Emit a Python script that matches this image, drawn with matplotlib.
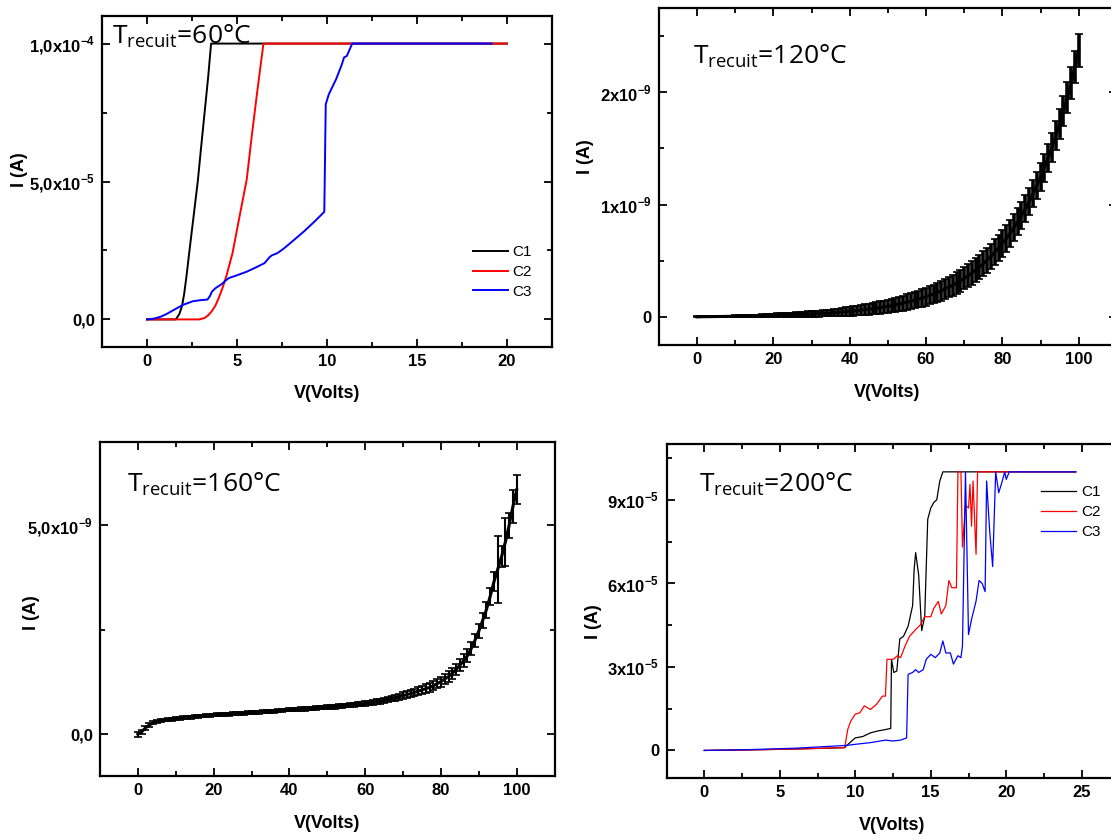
import matplotlib
matplotlib.use('Agg')
import matplotlib.pyplot as plt
from matplotlib.ticker import MultipleLocator

plt.rcParams['font.family'] = ['Liberation Sans', 'DejaVu Sans']

# ---- data ----
# annealing 60 C, three contacts (I in 1e-5 A)
c1_60_v = [0, 1.6, 1.8, 1.95, 2.07, 2.2, 2.36, 2.6, 2.82, 3.0, 3.2, 3.4, 3.56, 20]
c1_60_i = [0, 0, 0.2, 0.5, 0.95, 1.6, 2.5, 3.8, 5.0, 6.2, 7.5, 8.8, 10, 10]
c2_60_v = [0, 2.9, 3.2, 3.4, 3.6, 3.8, 4.0, 4.2, 4.4, 4.75, 5.14, 5.54, 5.84, 6.14, 6.47, 20]
c2_60_i = [0, 0, 0.05, 0.15, 0.3, 0.5, 0.8, 1.15, 1.55, 2.4, 3.73, 5.07, 6.76, 8.34, 10, 10]
c3_60_v = [0, 0.4, 0.77, 1.1, 1.37, 1.7, 1.97, 2.3, 2.56, 3.0, 3.36, 3.5, 3.6, 3.8, 4.15,
           4.35, 4.55, 5.0, 5.54, 6.0, 6.53, 6.8, 6.93, 7.23, 7.5, 7.73, 8.2, 8.72, 9.31,
           9.85, 9.93, 10.1, 10.5, 10.8, 10.95, 11.1, 11.4, 19.15]
c3_60_i = [0, 0.03, 0.1, 0.2, 0.3, 0.42, 0.52, 0.6, 0.66, 0.7, 0.72, 0.85, 1.0, 1.13, 1.28,
           1.4, 1.5, 1.6, 1.73, 1.87, 2.04, 2.25, 2.32, 2.4, 2.52, 2.64, 2.9, 3.19, 3.55,
           3.9, 7.8, 8.16, 8.7, 9.2, 9.5, 9.55, 10, 10]

# annealing 120 C, mean current and error (1e-9 A), V = 0..100 step 1
v_120 = list(range(0, 101))
i_120 = [0.000, 0.001, 0.002, 0.002, 0.003, 0.003, 0.004, 0.004, 0.005, 0.005,
         0.006, 0.006, 0.007, 0.008, 0.009, 0.010, 0.010, 0.011, 0.012, 0.013,
         0.014, 0.015, 0.016, 0.017, 0.018, 0.019, 0.021, 0.022, 0.023, 0.025,
         0.026, 0.028, 0.030, 0.032, 0.034, 0.036, 0.038, 0.041, 0.044, 0.047,
         0.050, 0.053, 0.057, 0.060, 0.064, 0.069, 0.073, 0.078, 0.083, 0.089,
         0.095, 0.101, 0.108, 0.115, 0.123, 0.131, 0.139, 0.149, 0.159, 0.169,
         0.180, 0.192, 0.205, 0.219, 0.233, 0.249, 0.266, 0.283, 0.302, 0.322,
         0.344, 0.366, 0.391, 0.417, 0.444, 0.474, 0.506, 0.539, 0.575, 0.613,
         0.654, 0.697, 0.744, 0.793, 0.846, 0.902, 0.962, 1.026, 1.095, 1.167,
         1.245, 1.328, 1.416, 1.510, 1.611, 1.718, 1.832, 1.954, 2.084, 2.222,
         2.370]
e_120 = [0.004, 0.004, 0.004, 0.005, 0.005, 0.005, 0.006, 0.006, 0.007, 0.007,
         0.008, 0.008, 0.009, 0.009, 0.010, 0.011, 0.011, 0.012, 0.013, 0.014,
         0.015, 0.016, 0.017, 0.018, 0.019, 0.020, 0.021, 0.022, 0.023, 0.024,
         0.025, 0.026, 0.027, 0.028, 0.029, 0.030, 0.032, 0.033, 0.035, 0.037,
         0.039, 0.041, 0.043, 0.045, 0.047, 0.049, 0.051, 0.053, 0.055, 0.057,
         0.059, 0.061, 0.063, 0.065, 0.067, 0.069, 0.071, 0.073, 0.075, 0.077,
         0.079, 0.081, 0.083, 0.085, 0.087, 0.089, 0.091, 0.093, 0.095, 0.097,
         0.099, 0.101, 0.103, 0.105, 0.107, 0.109, 0.111, 0.113, 0.115, 0.117,
         0.118, 0.119, 0.120, 0.120, 0.120, 0.120, 0.120, 0.120, 0.120, 0.120,
         0.121, 0.123, 0.125, 0.127, 0.129, 0.131, 0.134, 0.137, 0.140, 0.143,
         0.146]

# annealing 160 C, mean current and error (1e-9 A), V = 0..100 step 1
v_160 = list(range(0, 101))
i_160 = [0.00, 0.06, 0.15, 0.22, 0.27, 0.30, 0.32, 0.34, 0.35, 0.36,
         0.37, 0.38, 0.39, 0.40, 0.41, 0.42, 0.43, 0.435, 0.44, 0.45,
         0.46, 0.465, 0.47, 0.475, 0.48, 0.485, 0.49, 0.50, 0.505, 0.51,
         0.52, 0.525, 0.53, 0.535, 0.54, 0.545, 0.55, 0.56, 0.565, 0.58,
         0.585, 0.59, 0.595, 0.60, 0.605, 0.61, 0.62, 0.625, 0.635, 0.64,
         0.65, 0.655, 0.66, 0.67, 0.675, 0.685, 0.69, 0.70, 0.715, 0.72,
         0.735, 0.75, 0.76, 0.78, 0.79, 0.81, 0.83, 0.85, 0.87, 0.895,
         0.92, 0.95, 0.97, 1.00, 1.03, 1.06, 1.09, 1.12, 1.16, 1.21,
         1.26, 1.32, 1.38, 1.46, 1.55, 1.65, 1.76, 1.88, 2.05, 2.25,
         2.47, 2.72, 2.98, 3.30, 3.65, 3.95, 4.25, 4.60, 5.00, 5.45,
         5.85]
e_160 = [0.06, 0.05, 0.04, 0.04, 0.035, 0.035, 0.035, 0.035, 0.035, 0.035,
         0.035, 0.035, 0.035, 0.035, 0.035, 0.035, 0.035, 0.035, 0.035, 0.035,
         0.035, 0.035, 0.035, 0.035, 0.035, 0.035, 0.035, 0.035, 0.035, 0.035,
         0.035, 0.035, 0.035, 0.035, 0.035, 0.035, 0.035, 0.035, 0.035, 0.035,
         0.04, 0.04, 0.04, 0.04, 0.04, 0.04, 0.04, 0.04, 0.04, 0.04,
         0.045, 0.045, 0.045, 0.045, 0.045, 0.045, 0.045, 0.045, 0.045, 0.045,
         0.05, 0.05, 0.055, 0.055, 0.06, 0.06, 0.065, 0.065, 0.07, 0.075,
         0.08, 0.08, 0.085, 0.09, 0.09, 0.095, 0.10, 0.10, 0.11, 0.11,
         0.12, 0.12, 0.13, 0.13, 0.14, 0.14, 0.15, 0.15, 0.16, 0.16,
         0.17, 0.18, 0.19, 0.21, 0.23, 0.80, 0.26, 0.57, 0.30, 0.40,
         0.35]

# annealing 200 C, three contacts (I in 1e-5 A)
c1_200_v = [0, 3, 6, 9.3, 9.5, 10, 10.5, 11, 11.5, 12, 12.35, 12.4, 12.55, 12.75, 12.95,
            13.2, 13.5, 13.8, 13.9, 14.0, 14.2, 14.4, 14.6, 14.8, 15.0, 15.2, 15.4, 15.6,
            15.8, 24.6]
c1_200_i = [0, 0.02, 0.05, 0.1, 0.21, 0.45, 0.5, 0.63, 0.7, 0.75, 0.79, 3.27, 2.8, 2.85, 4.0,
            4.1, 4.46, 5.2, 6.5, 7.1, 6.3, 4.3, 4.8, 8.3, 8.7, 8.9, 9.0, 9.67,
            10, 10]
c2_200_v = [0, 3, 6, 9.3, 9.5, 9.7, 10, 10.3, 10.6, 11, 11.4, 11.8, 12.0, 12.1, 12.5, 12.8,
            13.0, 13.3, 13.6, 14.0, 14.3, 14.6, 15.0, 15.2, 15.5, 15.7, 16.0, 16.2, 16.4,
            16.7, 16.8, 17.0, 17.1, 17.3, 17.5, 17.6, 17.7, 17.8, 18.0, 18.1, 24.6]
c2_200_i = [0, 0.02, 0.05, 0.1, 0.75, 1.05, 1.3, 1.35, 1.6, 1.47, 1.65, 1.95, 1.95, 3.27, 3.27,
            3.4, 3.33, 3.75, 4.1, 4.34, 4.5, 4.8, 4.8, 5.1, 5.35, 4.9, 5.2, 6.1, 5.84,
            5.84, 10, 10, 7.3, 8.8, 8.7, 9.55, 8.05, 9.67, 7.04, 10, 10]
c3_200_v = [0, 3, 6, 9.4, 10, 11, 12, 12.5, 13.0, 13.4, 13.5, 13.8, 14.0, 14.2, 14.5, 14.7,
            15.0, 15.3, 15.6, 15.8, 16.0, 16.3, 16.5, 16.8, 17.0, 17.1, 17.3, 17.5, 17.7,
            18.0, 18.2, 18.4, 18.6, 18.7, 18.9, 19.1, 19.3, 19.5, 19.7, 19.9, 20.0, 20.2, 24.6]
c3_200_i = [0, 0.03, 0.08, 0.18, 0.22, 0.28, 0.37, 0.34, 0.37, 0.45, 2.73, 2.8, 2.9, 2.8,
            2.9, 3.27, 3.45, 3.33, 3.5, 3.93, 3.5, 3.5, 3.1, 3.4, 3.33, 3.75, 10, 4.16, 4.7,
            5.36, 6.1, 6.0, 5.7, 9.67, 7.9, 6.6, 10, 9.25, 9.6, 10, 9.73, 10, 10]

W, H = 1111, 834
fig = plt.figure(figsize=(W / 100, H / 100), dpi=100)


def box(x0, y0, x1, y1):
    return [x0 / W, 1 - y1 / H, (x1 - x0) / W, (y1 - y0) / H]


def style(ax, xt, xminor, yt, ylabels, yminor):
    ax.set_xticks(xt, [str(t) for t in xt], fontweight='bold', fontsize=12)
    ax.set_yticks(yt, ylabels, fontweight='bold', fontsize=12)
    ax.xaxis.set_minor_locator(MultipleLocator(xminor))
    ax.yaxis.set_minor_locator(MultipleLocator(yminor))
    ax.tick_params(which='both', direction='in', top=True, right=True, width=1.3)
    ax.tick_params(which='major', length=6, pad=5)
    ax.tick_params(which='minor', length=3.5)
    for sp in ax.spines.values():
        sp.set_linewidth(1.6)


def labels(xl, yl):
    fig.text(xl[0] / W, 1 - xl[1] / H, 'V(Volts)', ha='center', va='center',
             fontsize=13, fontweight='bold')
    fig.text(yl[0] / W, 1 - yl[1] / H, 'I (A)', ha='center', va='center',
             fontsize=13, fontweight='bold', rotation=90)


def title(x, y, temp):
    fig.text(x / W, 1 - y / H, r'T$_{\mathregular{recuit}}$=' + temp + '°C',
             fontsize=19, family='Open Sans', va='baseline')


def band(ax, v, i, e, ew):
    ax.errorbar(v, [y * 1e-9 for y in i], yerr=[y * 1e-9 for y in e],
                color='black', lw=2.2, elinewidth=ew, capsize=2.6, capthick=1.2)


def legend(ax, anchor):
    ax.legend(loc='upper left', bbox_to_anchor=anchor, frameon=False, fontsize=11,
              borderpad=0, borderaxespad=0, handlelength=2.3, handletextpad=0.3,
              labelspacing=0.38)


# --- 60 C ---
ax1 = fig.add_axes(box(102, 16, 552, 347))
ax1.plot(c1_60_v, [i * 1e-5 for i in c1_60_i], color='black', lw=1.4, label='C1')
ax1.plot(c2_60_v, [i * 1e-5 for i in c2_60_i], color='red', lw=1.4, label='C2')
ax1.plot(c3_60_v, [i * 1e-5 for i in c3_60_i], color='blue', lw=1.4, label='C3')
ax1.set_xlim(-2.5, 22.5)
ax1.set_ylim(-1e-5, 1.1e-4)
style(ax1, [0, 5, 10, 15, 20], 2.5, [0, 5e-5, 1e-4],
      ['0,0', r'5,0x10$^{\mathregular{-5}}$', r'1,0x10$^{\mathregular{-4}}$'], 2.5e-5)
legend(ax1, (0.824, 0.308))
labels((327, 394), (19, 170))
title(112, 44, '60')

# --- 120 C ---
ax2 = fig.add_axes(box(658.8, 8, 1116.9, 345))
band(ax2, v_120, i_120, e_120, 2.6)
ax2.set_xlim(-10, 110)
ax2.set_ylim(-0.25e-9, 2.75e-9)
style(ax2, [0, 20, 40, 60, 80, 100], 10, [0, 1e-9, 2e-9],
      ['0', r'1x10$^{\mathregular{-9}}$', r'2x10$^{\mathregular{-9}}$'], 0.5e-9)
labels((887, 393), (586, 157))
title(693, 63, '120')

# --- 160 C ---
ax3 = fig.add_axes(box(100, 441.7, 554.6, 776))
band(ax3, v_160, i_160, e_160, 1.5)
ax3.set_xlim(-10, 110)
ax3.set_ylim(-1e-9, 7e-9)
style(ax3, [0, 20, 40, 60, 80, 100], 10, [0, 5e-9],
      ['0,0', r'5,0x10$^{\mathregular{-9}}$'], 2.5e-9)
labels((327, 823), (32, 613))
title(127, 492, '160')

# --- 200 C ---
ax4 = fig.add_axes(box(666.5, 444, 1119.5, 778.3))
ax4.plot(c1_200_v, [i * 1e-5 for i in c1_200_i], color='black', lw=0.9, label='C1')
ax4.plot(c2_200_v, [i * 1e-5 for i in c2_200_i], color='red', lw=0.9, label='C2')
ax4.plot(c3_200_v, [i * 1e-5 for i in c3_200_i], color='blue', lw=0.9, label='C3')
ax4.set_xlim(-2.5, 27.5)
ax4.set_ylim(-1e-5, 1.1e-4)
style(ax4, [0, 5, 10, 15, 20, 25], 2.5, [0, 3e-5, 6e-5, 9e-5],
      ['0', r'3x10$^{\mathregular{-5}}$', r'6x10$^{\mathregular{-5}}$',
       r'9x10$^{\mathregular{-5}}$'], 1.5e-5)
legend(ax4, (0.827, 0.876))
labels((892, 825), (593, 622))
title(699, 492, '200')

fig.savefig('out.png', dpi=100)
